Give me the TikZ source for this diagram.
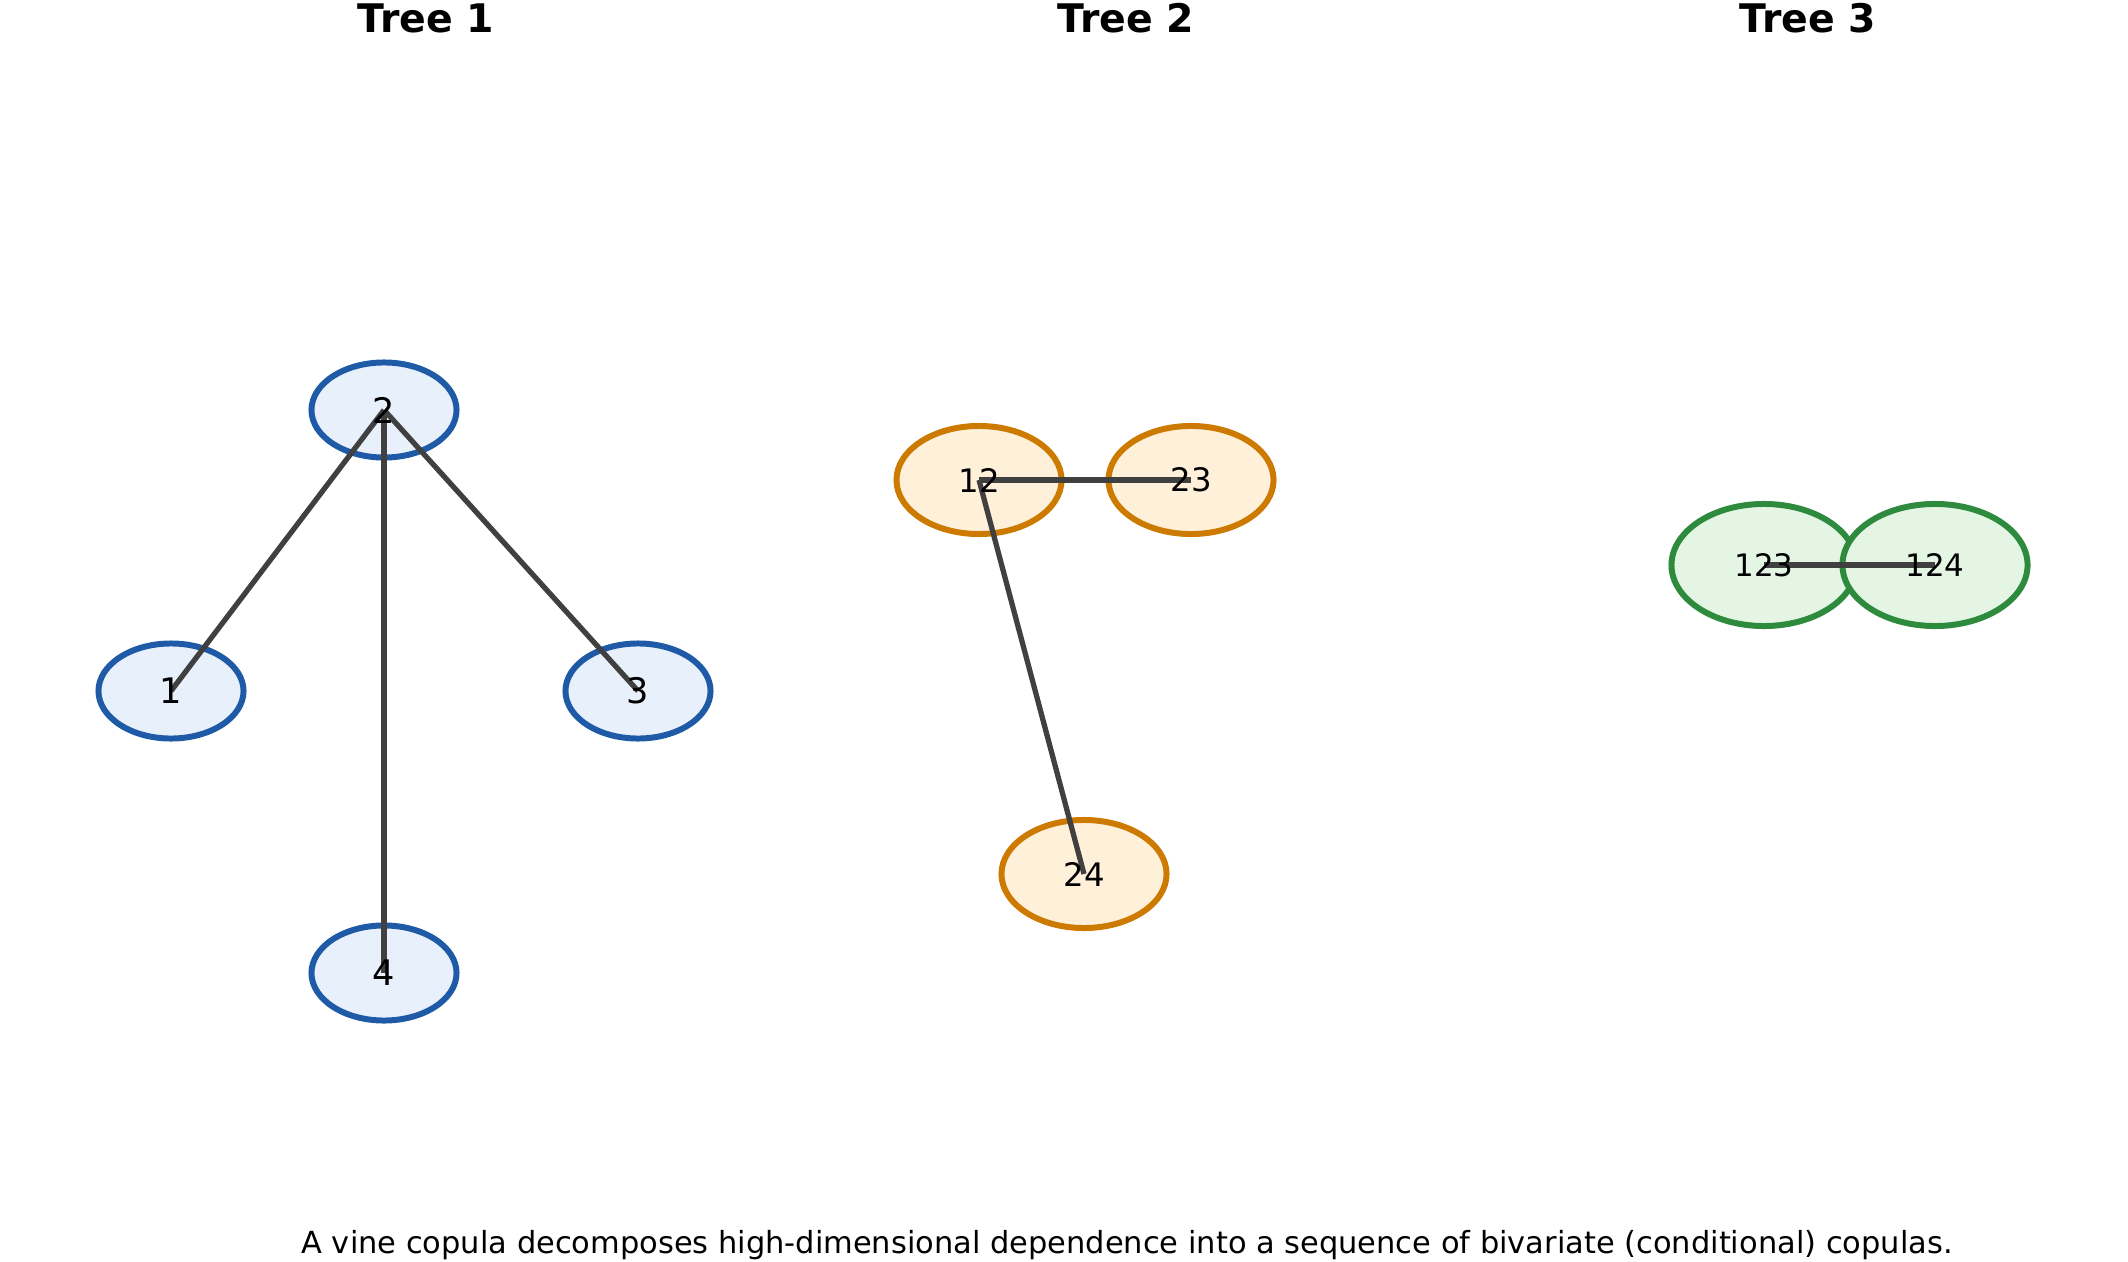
\documentclass[tikz,border=0pt]{standalone}
\usepackage{fontspec}
\setmainfont{DejaVu Sans}
\usetikzlibrary{shapes.geometric}
\definecolor{vineblue}{RGB}{31,90,166}
\definecolor{vinebluefill}{RGB}{232,240,251}
\definecolor{vineorange}{RGB}{204,122,0}
\definecolor{vineorangefill}{RGB}{255,240,218}
\definecolor{vinegreen}{RGB}{46,139,62}
\definecolor{vinegreenfill}{RGB}{228,245,228}
\definecolor{edgegray}{RGB}{64,64,64}

\begin{document}
\begin{tikzpicture}[x=0.01cm, y=-0.01cm,
    vnode/.style={ellipse, line width=1.7pt, inner sep=0pt},
    vedge/.style={edgegray, line width=1.5pt}]
    \useasboundingbox (0,0) rectangle (2128,1261);

    % Titles
    \node[font=\bfseries\fontsize{11.2}{13}\selectfont] (title1) at (426,18) {Tree 1};
    \node[font=\bfseries\fontsize{11.2}{13}\selectfont] (title2) at (1126,18) {Tree 2};
    \node[font=\bfseries\fontsize{11.2}{13}\selectfont] (title3) at (1808,18) {Tree 3};

    % Tree 1
    \foreach \n/\x/\y in {2/384/410, 1/171/691, 3/638/691, 4/384/973} {
        \node[vnode, draw=vineblue, fill=vinebluefill, minimum width=1.45cm, minimum height=0.95cm] (n\n) at (\x,\y) {};
    }
    % Tree 2
    \foreach \n/\x/\y in {12/979/480, 23/1191/480, 24/1084/874} {
        \node[vnode, draw=vineorange, fill=vineorangefill, minimum width=1.65cm, minimum height=1.08cm] (n\n) at (\x,\y) {};
    }
    % Tree 3
    \foreach \n/\x/\y in {123/1764/565, 124/1935/565} {
        \node[vnode, draw=vinegreen, fill=vinegreenfill, minimum width=1.85cm, minimum height=1.22cm] (n\n) at (\x,\y) {};
    }

    % Edges
    \foreach \a/\b in {2/1, 2/3, 2/4, 12/23, 12/24, 123/124} {
        \draw[vedge] (n\a.center) -- (n\b.center);
    }

    % Labels
    \foreach \n in {1,2,3,4} {
        \node[font=\fontsize{10}{12}\selectfont] (lab\n) at (n\n) {\n};
    }
    \foreach \n in {12,23,24} {
        \node[font=\fontsize{9.2}{11}\selectfont] (lab\n) at (n\n) {\n};
    }
    \foreach \n in {123,124} {
        \node[font=\fontsize{8.8}{10}\selectfont] (lab\n) at (n\n) {\n};
    }

    \node[font=\fontsize{8.66}{10}\selectfont] (caption) at (1127,1245) {A vine copula decomposes high-dimensional dependence into a sequence of bivariate (conditional) copulas.};
\end{tikzpicture}
\end{document}
